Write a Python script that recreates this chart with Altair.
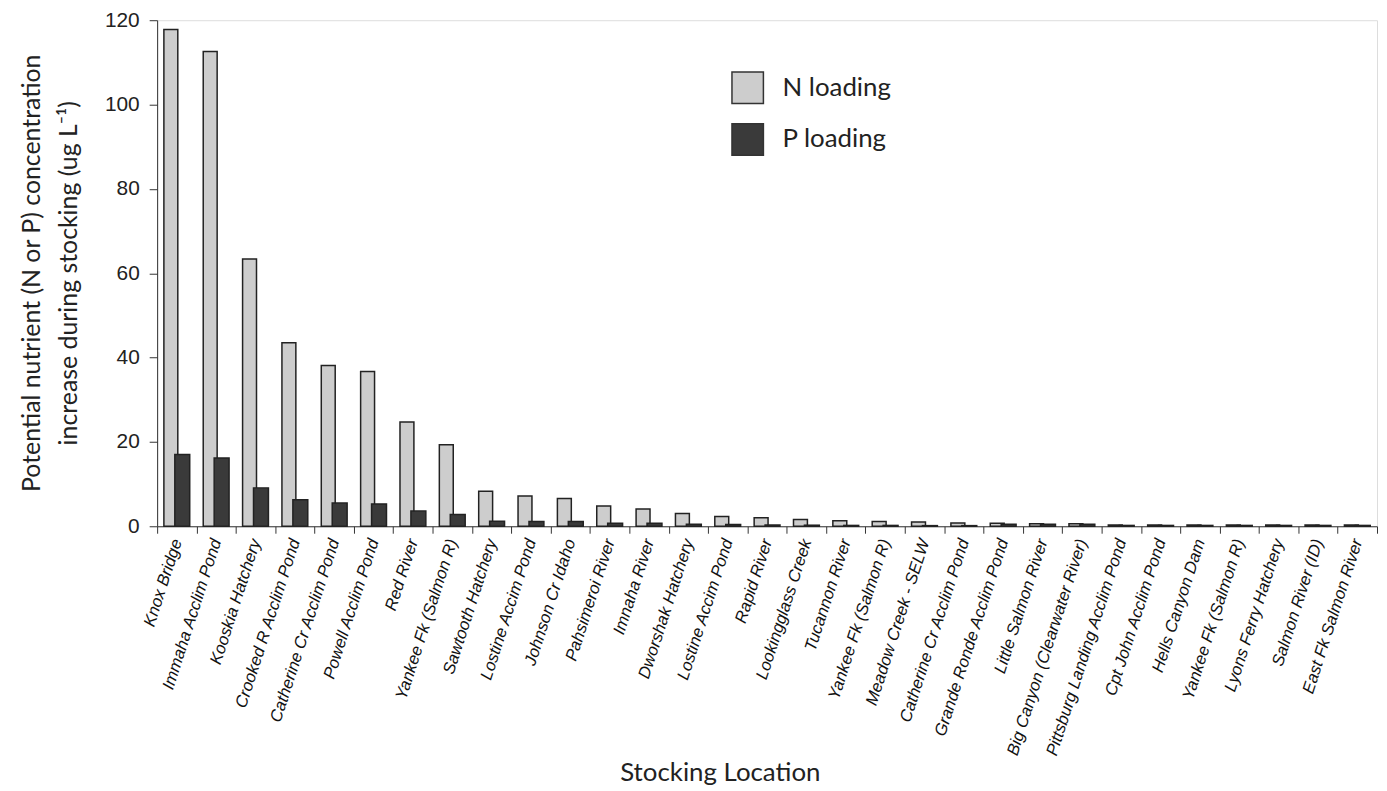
import json
import altair as alt
import pandas as pd

locations = [
    "Knox Bridge", "Immaha Acclim Pond", "Kooskia Hatchery", "Crooked R Acclim Pond",
    "Catherine Cr Acclim Pond", "Powell Acclim Pond", "Red River", "Yankee Fk (Salmon R)",
    "Sawtooth Hatchery", "Lostine Accim Pond", "Johnson Cr Idaho", "Pahsimeroi River",
    "Imnaha River", "Dworshak Hatchery", "Lostine Accim Pond", "Rapid River",
    "Lookingglass Creek", "Tucannon River", "Yankee Fk (Salmon R)", "Meadow Creek - SELW",
    "Catherine Cr Acclim Pond", "Grande Ronde Acclim Pond", "Little Salmon River",
    "Big Canyon (Clearwater River)", "Pittsburg Landing Acclim Pond", "Cpt John Acclim Pond",
    "Hells Canyon Dam", "Yankee Fk (Salmon R)", "Lyons Ferry Hatchery", "Salmon River (ID)",
    "East Fk Salmon River",
]
n_loading = [117.8, 112.6, 63.4, 43.5, 38.1, 36.7, 24.7, 19.3, 8.3, 7.2, 6.6, 4.8,
             4.1, 3.0, 2.3, 2.0, 1.6, 1.3, 1.1, 1.0, 0.8, 0.7, 0.6, 0.6, 0.3, 0.3,
             0.3, 0.3, 0.3, 0.3, 0.3]
p_loading = [17.0, 16.2, 9.1, 6.3, 5.5, 5.3, 3.6, 2.8, 1.2, 1.1, 1.1, 0.7,
             0.7, 0.5, 0.4, 0.3, 0.25, 0.2, 0.2, 0.15, 0.15, 0.5, 0.5, 0.5, 0.2, 0.2,
             0.2, 0.2, 0.2, 0.2, 0.2]
series = ["N loading", "P loading"]
fills = ["#cdcdcd", "#3a3a3a"]

idx = list(range(len(locations)))
df_n = pd.DataFrame({"idx": idx, "value": n_loading, "series": series[0]})
df_p = pd.DataFrame({"idx": idx, "value": p_loading, "series": series[1]})

label_expr = json.dumps(locations) + "[datum.value]"

x_enc = alt.X(
    "idx:O",
    sort=idx,
    scale=alt.Scale(paddingInner=0, paddingOuter=0),
    axis=alt.Axis(
        title="Stocking Location",
        labelExpr=label_expr,
        labelAngle=-72,
        labelAlign="right",
        labelBaseline="middle",
        labelPadding=6,
        labelLimit=0,
        labelFont="Liberation Sans",
        labelFontStyle="italic",
        labelFontSize=16.8,
        labelColor="#111111",
        tickBand="extent",
        tickSize=7,
        tickColor="#333333",
        domainColor="#333333",
        titleFont="Lato",
        titleFontSize=26,
        titleFontWeight="normal",
        titleColor="#222222",
        titleX=566,
        titleAlign="center",
        titleY=248,
        titleBaseline="middle",
    ),
)
y_enc = alt.Y(
    "value:Q",
    scale=alt.Scale(domain=[0, 120], nice=False),
    axis=alt.Axis(
        values=[0, 20, 40, 60, 80, 100, 120],
        title=["Potential nutrient (N or P) concentration", "increase during stocking (ug L\u207b\u00b9)"],
        titleFont="Lato",
        titleFontSize=25,
        titleFontWeight="normal",
        titleColor="#222222",
        titleLineHeight=37,
        titleAngle=-90,
        titleX=-138,
        titleY=254,
        titleAlign="center",
        titleBaseline="top",
        labelFont="Liberation Sans",
        labelFontSize=21,
        labelColor="#222222",
        labelPadding=10,
        tickSize=8,
        tickColor="#333333",
        domainColor="#333333",
        grid=False,
    ),
)
color_enc = alt.Color(
    "series:N",
    scale=alt.Scale(domain=series, range=fills),
    legend=alt.Legend(
        title=None,
        orient="none",
        legendX=577,
        legendY=51,
        symbolType="square",
        symbolSize=1000,
        symbolStrokeColor="#333333",
        symbolStrokeWidth=1.5,
        symbolOpacity=1,
        labelFont="Lato",
        labelFontSize=26,
        labelColor="#222222",
        labelOffset=18,
        rowPadding=14,
    ),
)

bars_n = alt.Chart(df_n).mark_bar(
    width=14, xOffset=-6, stroke="#222222", strokeWidth=1.5, opacity=1
).encode(x=x_enc, y=y_enc, color=color_enc)
bars_p = alt.Chart(df_p).mark_bar(
    width=15, xOffset=5.5, stroke="#222222", strokeWidth=1.5, opacity=1
).encode(x=x_enc, y=y_enc, color=color_enc)

chart = alt.layer(bars_n, bars_p).properties(
    width=1227,
    height=509,
    autosize=alt.AutoSizeParams(type="none"),
    padding={"left": 150, "top": 10, "right": 2, "bottom": 262},
).configure_view(stroke=None).configure(background="white")

chart.save("out.html", embed_options={"renderer": "svg", "actions": False})
